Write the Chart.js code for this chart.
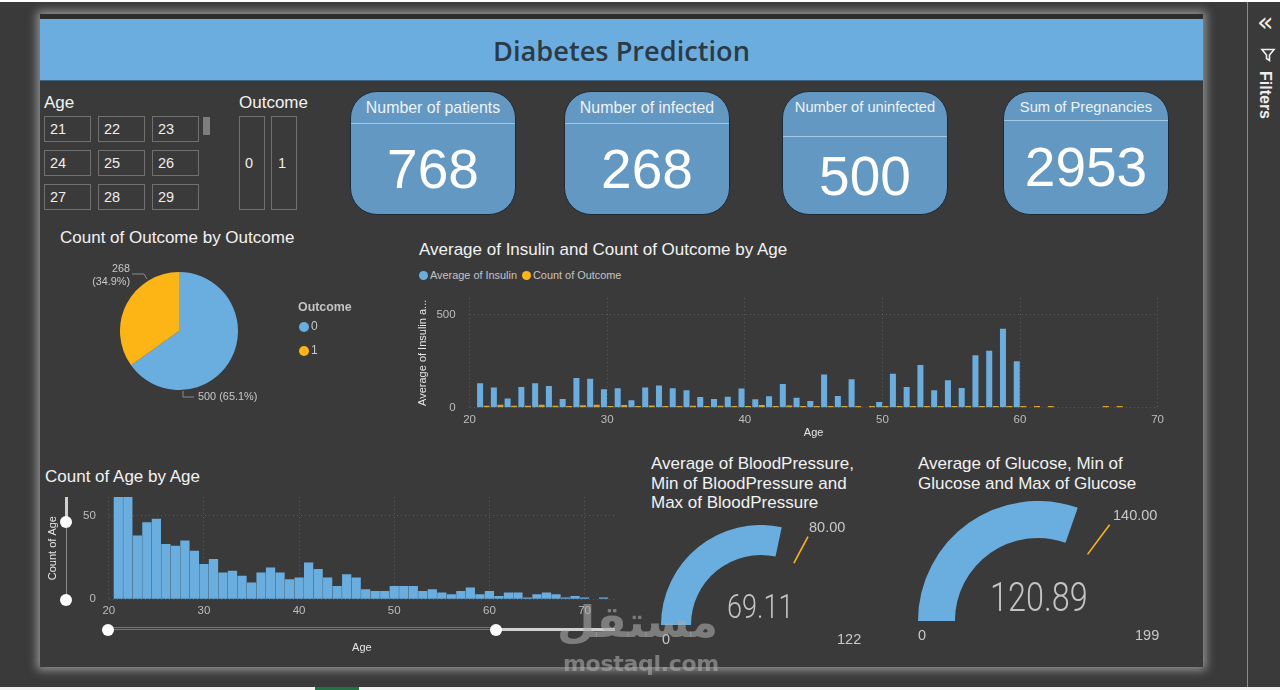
<!DOCTYPE html>
<html><head><meta charset="utf-8">
<script src="https://cdn.jsdelivr.net/npm/chart.js@4"></script>
<style>
html,body{margin:0;padding:0;background:#3a3a3a;width:1280px;height:690px;overflow:hidden;font-family:"Liberation Sans",Arial,sans-serif;color:#fff}
.a{position:absolute;white-space:nowrap}
canvas{position:absolute;display:block}
#page{position:absolute;left:40px;top:14px;width:1163px;height:653px;background:#3a3a3a;box-shadow:0 0 9px 3px rgba(225,225,225,.55)}
#strip{position:absolute;left:40px;top:14px;width:1163px;height:5px;background:#2d2d2d}
#head{position:absolute;left:40px;top:19px;width:1163px;height:62px;background:#6cade0;border-bottom:1px solid #3f6484;line-height:64px;text-align:center;font-size:27.2px;font-weight:600;color:#2c3a46;box-sizing:border-box;font-family:"Open Sans","Liberation Sans",sans-serif}
.t{font-size:17px;color:#f2f2f2}
.box{position:absolute;border:1px solid #707070;box-sizing:border-box;font-size:14.5px;color:#eee;display:flex;align-items:center}
.card{position:absolute;top:90.5px;width:166px;height:124px;background:#6398c3;border:1px solid #1d2a36;border-radius:27px;box-sizing:border-box;overflow:hidden}
.card .l{position:absolute;left:0;right:0;text-align:center;color:#eef3f8}
.card .r{position:absolute;left:0;right:0;height:1px;background:#a6c6df}
.card .n{position:absolute;left:0;right:0;text-align:center;font-size:55px;color:#fff;line-height:60px}
.g{color:#c8c8c8;font-size:14.5px}
.gv{color:#c4c4c4;font-family:Roboto,"Liberation Sans",sans-serif;font-weight:300;transform-origin:left center}
</style></head><body>
<div id="page"></div><div id="strip"></div>
<div class="a" style="left:0;top:0;width:1280px;height:2px;background:#fff"></div>
<div class="a" style="left:0;top:687px;width:1280px;height:3px;background:#f2f2f2"></div>
<div class="a" style="left:315px;top:687px;width:44px;height:3px;background:#217346"></div>
<div class="a" style="left:1247px;top:2px;width:1px;height:685px;background:#8a8a8a"></div>
<div class="a" style="left:1257px;top:6px;font-size:27px;color:#eee;font-family:'DejaVu Sans'">«</div>
<svg class="a" style="left:1260px;top:47px" width="16" height="16" viewBox="0 0 16 16"><path d="M2 2.5 L14 2.5 L9.5 8 L9.5 13.5 L6.5 11.5 L6.5 8 Z" fill="none" stroke="#eee" stroke-width="1.6"/></svg>
<div class="a" style="left:1256px;top:71px;font-size:16px;font-weight:bold;color:#eee;writing-mode:vertical-rl">Filters</div>

<div id="head">Diabetes Prediction</div>

<div class="a t" style="left:44px;top:93px">Age</div>
<div class="a t" style="left:239px;top:93px">Outcome</div>
<div id="ageBoxes"></div>
<div class="a" style="left:203px;top:117px;width:7px;height:18px;background:#7d7d7d"></div>
<div class="box" style="left:239px;top:116px;width:26px;height:94px;padding-left:5px">0</div>
<div class="box" style="left:271px;top:116px;width:26px;height:94px;padding-left:6px">1</div>

<div class="card" style="left:350px"><div class="l" style="top:7px;font-size:15.9px">Number of patients</div><div class="r" style="top:31px"></div><div class="n" style="top:47px">768</div></div>
<div class="card" style="left:564px"><div class="l" style="top:7px;font-size:15.9px">Number of infected</div><div class="r" style="top:31px"></div><div class="n" style="top:47px">268</div></div>
<div class="card" style="left:782px"><div class="l" style="top:7px;font-size:14.7px">Number of uninfected</div><div class="r" style="top:44px"></div><div class="n" style="top:54px">500</div></div>
<div class="card" style="left:1003px"><div class="l" style="top:7px;font-size:14.7px">Sum of Pregnancies</div><div class="r" style="top:28px"></div><div class="n" style="top:45px">2953</div></div>

<div class="a t" style="left:60px;top:228px">Count of Outcome by Outcome</div>
<canvas id="pie" width="118" height="118" style="left:119.5px;top:272px;width:118px;height:118px"></canvas>
<svg class="a" style="left:0;top:0;pointer-events:none" width="400" height="420"><path d="M132 274 L144 274 L147 279" fill="none" stroke="#8a8a8a"/><path d="M183 391 L183 397 L194 397" fill="none" stroke="#8a8a8a"/></svg>
<div class="a" style="left:92px;top:262px;width:38px;text-align:right;font-size:10.8px;line-height:12.5px;color:#c8c8c8">268<br><span style="margin-left:-6px">(34.9%)</span></div>
<div class="a" style="left:198px;top:390px;font-size:10.9px;color:#c8c8c8">500 (65.1%)</div>
<div class="a" style="left:298px;top:300px;font-size:12.4px;font-weight:bold;color:#c4c4c4">Outcome</div>
<div class="a" style="left:299px;top:322px;width:10px;height:10px;border-radius:50%;background:#6aaee0"></div>
<div class="a" style="left:311px;top:319px;font-size:12px;color:#c8c8c8">0</div>
<div class="a" style="left:299px;top:346px;width:10px;height:10px;border-radius:50%;background:#fdb515"></div>
<div class="a" style="left:311px;top:343px;font-size:12px;color:#c8c8c8">1</div>

<div class="a t" style="left:419px;top:240px">Average of Insulin and Count of Outcome by Age</div>
<div class="a" style="left:419px;top:271px;width:9px;height:9px;border-radius:50%;background:#6aaee0"></div>
<div class="a" style="left:430px;top:269px;font-size:10.9px;color:#c4c4c4">Average of Insulin</div>
<div class="a" style="left:522px;top:271px;width:9px;height:9px;border-radius:50%;background:#fdb515"></div>
<div class="a" style="left:533px;top:269px;font-size:10.9px;color:#c4c4c4">Count of Outcome</div>
<canvas id="ins" width="760" height="150" style="left:410px;top:290px;width:760px;height:150px"></canvas>

<div class="a t" style="left:45px;top:467px">Count of Age by Age</div>
<canvas id="cnt" width="590" height="170" style="left:40px;top:485px;width:590px;height:170px"></canvas>
<div class="a" style="left:65px;top:497px;width:3px;height:24px;background:#cfcfcf"></div>
<div class="a" style="left:66px;top:521px;width:1px;height:79px;background:#8a8a8a"></div>
<div class="a" style="left:60px;top:516px;width:12px;height:12px;border-radius:50%;background:#fff"></div>
<div class="a" style="left:60px;top:594px;width:12px;height:12px;border-radius:50%;background:#fff"></div>
<div class="a" style="left:108px;top:627px;width:388px;height:3px;border:1px solid #777;border-width:1px 0;box-sizing:border-box"></div>
<div class="a" style="left:496px;top:628px;width:119px;height:3px;background:#d0d0d0"></div>
<div class="a" style="left:102px;top:624px;width:12px;height:12px;border-radius:50%;background:#fff"></div>
<div class="a" style="left:490px;top:624px;width:12px;height:12px;border-radius:50%;background:#fff"></div>

<div class="a t" style="left:651px;top:454px;line-height:19.5px">Average of BloodPressure,<br>Min of BloodPressure and<br>Max of BloodPressure</div>
<canvas id="g1" width="200" height="100" style="left:661px;top:525px;width:200px;height:100px"></canvas>
<div class="a g" style="left:809px;top:519px">80.00</div>
<div class="a gv" style="left:727px;top:587px;font-size:33px;transform:scaleX(.82)">69.11</div>
<div class="a g" style="left:662px;top:631px">0</div>
<div class="a g" style="left:837px;top:631px">122</div>

<div class="a t" style="left:918px;top:454px;line-height:19.5px">Average of Glucose, Min of<br>Glucose and Max of Glucose</div>
<canvas id="g2" width="240" height="120" style="left:918px;top:501px;width:240px;height:120px"></canvas>
<div class="a g" style="left:1113px;top:507px">140.00</div>
<div class="a gv" style="left:990px;top:574px;font-size:40px;transform:scaleX(.81)">120.89</div>
<div class="a g" style="left:918px;top:627px">0</div>
<div class="a g" style="left:1135px;top:627px">199</div>

<div class="a" dir="rtl" style="left:562px;top:596px;width:156px;text-align:center;font-family:'DejaVu Sans';font-weight:bold;font-size:44px;color:rgba(170,170,170,.6)">مستقل</div>
<div class="a" style="left:563px;top:651px;font-family:'DejaVu Sans','Liberation Sans';font-weight:bold;font-size:22px;color:rgba(170,170,170,.6);letter-spacing:-.3px">mostaql.com</div>

<script>
const BLUE='#6aaee0', ORANGE='#fdb515';
const ageSlicer=[21,22,23,24,25,26,27,28,29];
const outcomeLabels=['0','1'];
const outcomeCounts=[500,268];
const ages=[21,22,23,24,25,26,27,28,29,30,31,32,33,34,35,36,37,38,39,40,41,42,43,44,45,46,47,48,49,50,51,52,53,54,55,56,57,58,59,60,61,62,63,64,65,66,67,68,69,70];
const avgInsulin=[131,108,50,111,131,117,47,160,156,99,104,40,108,119,104,94,58,47,59,103,45,61,128,54,36,178,63,153,0,31,182,111,230,94,147,106,282,306,424,250,0,0,0,0,0,0,0,0,0,0];
const countOutcome=[10,16,10,10,16,10,9,13,16,9,15,9,12,9,9,10,9,10,9,9,14,9,12,9,9,9,9,9,9,9,9,9,9,9,9,9,9,9,9,9,9,9,null,null,null,9,9,null,null,9];
const insulinYTicks=[0,500];
const countAges=[21,22,23,24,25,26,27,28,29,30,31,32,33,34,35,36,37,38,39,40,41,42,43,44,45,46,47,48,49,50,51,52,53,54,55,56,57,58,59,60,61,62,63,64,65,66,67,68,69,70,72];
const countOfAge=[63,72,38,46,48,33,32,35,29,21,24,16,17,14,10,16,19,16,12,13,22,18,13,8,15,13,6,5,5,8,8,8,5,6,4,3,5,7,3,5,2,4,4,1,3,4,3,1,2,1,1];
const countYTicks=[0,50];
const bloodPressure={avg:69.11,max:122,target:80};
const glucose={avg:120.89,max:199,target:140};

Chart.defaults.animation=false;
Chart.defaults.font.family='"Liberation Sans",Arial,sans-serif';
Chart.defaults.devicePixelRatio=1;
const noPlug={legend:{display:false},tooltip:{enabled:false}};
const gridC='rgba(255,255,255,.16)';

const boxCols=[44,98,152], boxRows=[116,150,184];
const host=document.getElementById('ageBoxes');
ageSlicer.forEach((a,i)=>{const d=document.createElement('div');d.className='box';
 d.style.cssText=`left:${boxCols[i%3]}px;top:${boxRows[Math.floor(i/3)]}px;width:47px;height:26px;padding-left:5px`;
 d.textContent=a;host.appendChild(d);});

new Chart('pie',{type:'pie',data:{labels:outcomeLabels,datasets:[{data:outcomeCounts,backgroundColor:[BLUE,ORANGE],borderWidth:0}]},
 options:{responsive:false,plugins:noPlug}});

function xScale(min,max,h){return {type:'linear',min,max,offset:false,
  border:{display:false,dash:[1,3]},
  grid:{color:gridC,drawTicks:false,offset:false},
  ticks:{stepSize:10,color:'#bdbdbd',font:{size:11.5},padding:5,maxRotation:0,includeBounds:false},
  title:{display:true,text:'Age',color:'#e6e6e6',font:{size:11},padding:0},
  afterFit(s){s.height=h;s.paddingLeft=0;s.paddingRight=0;}};}
function yScale(max,tickValues,w,text,pad){return {min:0,max,
  border:{display:false,dash:[1,3]},
  grid:{color:gridC,drawTicks:false},
  ticks:{color:'#bdbdbd',font:{size:11.5},padding:pad},
  afterBuildTicks(s){s.ticks=tickValues.map(value=>({value}));},
  title:{display:true,text,color:'#e6e6e6',font:{size:11},padding:{top:6,bottom:0}},
  afterFit(s){s.width=w;s.paddingTop=0;s.paddingBottom=0;}};}

new Chart('ins',{type:'bar',data:{datasets:[
  {label:'Average of Insulin',data:ages.map((x,i)=>({x,y:avgInsulin[i]})),backgroundColor:BLUE,barPercentage:.92,categoryPercentage:.95},
  {label:'Count of Outcome',data:ages.map((x,i)=>({x,y:countOutcome[i]})),backgroundColor:'#d9a429',barPercentage:.92,categoryPercentage:.95}]},
 options:{responsive:false,maintainAspectRatio:false,layout:{padding:{top:8,right:12.4,left:0,bottom:0}},plugins:noPlug,
 scales:{x:xScale(20,70,32.3),y:yScale(590,insulinYTicks,59.6,'Average of Insulin a...',14)}}});

new Chart('cnt',{type:'bar',data:{datasets:[{label:'Count of Age',data:countAges.map((x,i)=>({x,y:countOfAge[i]})),backgroundColor:BLUE,barPercentage:.97,categoryPercentage:1}]},
 options:{responsive:false,maintainAspectRatio:false,layout:{padding:{top:12,right:15,left:0,bottom:0}},plugins:noPlug,
 scales:{x:xScale(20,73.2,55.7),y:yScale(61,countYTicks,68.8,'Count of Age',13)}}});

const targetLine={id:'targetLine',afterDatasetsDraw(c,a,o){
  const m=c.getDatasetMeta(0).data[0];
  const ang=Math.PI+Math.PI*o.target/o.max;
  const ctx=c.ctx;ctx.save();ctx.strokeStyle=ORANGE;ctx.lineWidth=1.6;ctx.beginPath();
  ctx.moveTo(m.x+Math.cos(ang)*m.innerRadius,m.y+Math.sin(ang)*m.innerRadius);
  ctx.lineTo(m.x+Math.cos(ang)*m.outerRadius,m.y+Math.sin(ang)*m.outerRadius);ctx.stroke();ctx.restore();}};
function gauge(id,g,cut){new Chart(id,{type:'doughnut',plugins:[targetLine],
 data:{datasets:[{data:[g.avg,g.max-g.avg],backgroundColor:[BLUE,'rgba(0,0,0,0)'],borderWidth:0}]},
 options:{responsive:false,rotation:-90,circumference:180,cutout:cut,plugins:{...noPlug,targetLine:{target:g.target,max:g.max}}}});}
gauge('g1',bloodPressure,'70%');
gauge('g2',glucose,'69.2%');
</script>
</body></html>
